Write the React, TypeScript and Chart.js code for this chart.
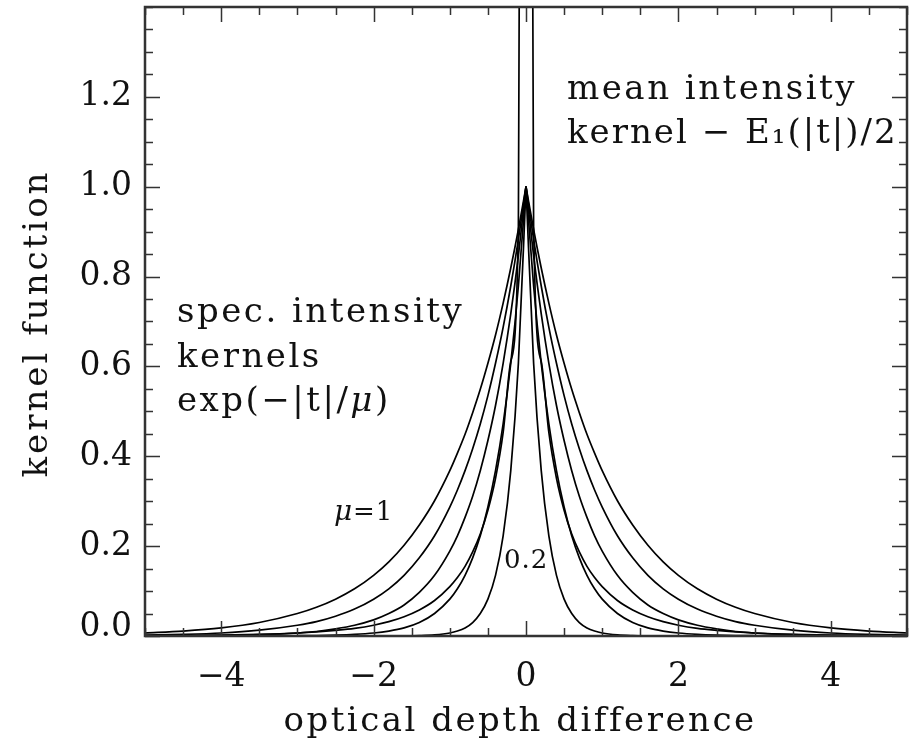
import React, { useEffect, useRef } from "react";
import { Chart, registerables } from "chart.js";

Chart.register(...registerables);

// |t| sample positions (optical depth difference, one side of the symmetric kernels)
const tAbs = [0, 0.1, 0.2, 0.3, 0.4, 0.5, 0.6, 0.7, 0.8, 0.9, 1.0, 1.2, 1.4, 1.6, 1.8, 2.0, 2.25, 2.5, 2.75, 3.0, 3.5, 4.0, 4.5, 5.0];

// specific intensity kernels exp(-|t|/mu)
const kernelMu10 = [1, 0.905, 0.819, 0.741, 0.670, 0.607, 0.549, 0.497, 0.449, 0.407, 0.368, 0.301, 0.247, 0.202, 0.165, 0.135, 0.105, 0.082, 0.064, 0.050, 0.030, 0.018, 0.011, 0.0067];
const kernelMu08 = [1, 0.883, 0.779, 0.687, 0.607, 0.535, 0.472, 0.417, 0.368, 0.325, 0.287, 0.223, 0.174, 0.135, 0.105, 0.082, 0.060, 0.044, 0.032, 0.024, 0.013, 0.0067, 0.0036, 0.0019];
const kernelMu06 = [1, 0.846, 0.717, 0.607, 0.513, 0.435, 0.368, 0.311, 0.264, 0.223, 0.189, 0.135, 0.097, 0.069, 0.050, 0.036, 0.024, 0.016, 0.010, 0.0067, 0.0029, 0.0013, 0.0006, 0.0002];
const kernelMu04 = [1, 0.779, 0.607, 0.472, 0.368, 0.287, 0.223, 0.174, 0.135, 0.105, 0.082, 0.050, 0.030, 0.018, 0.011, 0.0067, 0.0036, 0.0019, 0.0010, 0.0006, 0.0002, 0, 0, 0];
const kernelMu02 = [1, 0.607, 0.368, 0.223, 0.135, 0.082, 0.050, 0.030, 0.018, 0.011, 0.0067, 0.0025, 0.0009, 0.0003, 0.0001, 0, 0, 0, 0, 0, 0, 0, 0, 0];

// mean intensity kernel E1(|t|)/2 (runs off the top of the frame at t = 0)
const meanKernel = [6.0, 0.911, 0.611, 0.453, 0.351, 0.280, 0.227, 0.187, 0.155, 0.130, 0.110, 0.079, 0.058, 0.043, 0.032, 0.024, 0.017, 0.0125, 0.009, 0.0065, 0.0035, 0.0019, 0.0010, 0.0006];

const seriesList = [kernelMu10, kernelMu08, kernelMu06, kernelMu04, kernelMu02, meanKernel];

const xTickValues = [-4, -2, 0, 2, 4];
const yTickValues = [0, 0.2, 0.4, 0.6, 0.8, 1.0, 1.2];
const xTickLabels = ["\u22124", "\u22122", "0", "2", "4"];
const yTickLabels = ["0.0", "0.2", "0.4", "0.6", "0.8", "1.0", "1.2"];

const X_MIN = -5;
const X_MAX = 5;
const Y_MIN = 0;
const Y_MAX = 1.4;

const SERIF = "'DejaVu Serif', 'Liberation Serif', serif";

function halves(vals: number[]) {
  const right = tAbs.map((t, i) => ({ x: t, y: vals[i] }));
  const left = tAbs.map((t, i) => ({ x: -t, y: vals[i] })).reverse();
  return [left, right];
}

const frameAndText = {
  id: "frameAndText",
  afterDatasetsDraw(chart: any) {
    const { ctx, chartArea: a, scales } = chart;
    const xs = scales.x;
    const ys = scales.y;
    ctx.save();
    // ticks (inward, all four sides)
    ctx.strokeStyle = "#333";
    ctx.lineWidth = 1.5;
    ctx.beginPath();
    for (let k = 0; k <= 20; k++) {
      const v = X_MIN + k * 0.5;
      const major = xTickValues.some((m) => Math.abs(m - v) < 1e-6);
      const len = major ? 15 : 8;
      const px = Math.round(xs.getPixelForValue(v)) + 0.5;
      ctx.moveTo(px, a.bottom);
      ctx.lineTo(px, a.bottom - len);
      ctx.moveTo(px, a.top);
      ctx.lineTo(px, a.top + len);
    }
    for (let k = 0; k <= 28; k++) {
      const v = Y_MIN + k * 0.05;
      const major = yTickValues.some((m) => Math.abs(m - v) < 1e-6);
      const len = major ? 15 : 8;
      const py = Math.round(ys.getPixelForValue(v)) + 0.5;
      ctx.moveTo(a.left, py);
      ctx.lineTo(a.left + len, py);
      ctx.moveTo(a.right, py);
      ctx.lineTo(a.right - len, py);
    }
    ctx.stroke();
    // frame
    ctx.lineWidth = 2.5;
    ctx.strokeRect(a.left, a.top, a.right - a.left, a.bottom - a.top);

    // axis titles
    ctx.fillStyle = "#111";
    ctx.font = `34px ${SERIF}`;
    ctx.textAlign = "center";
    ctx.textBaseline = "alphabetic";
    (ctx as any).letterSpacing = "2.5px";
    ctx.fillText("optical depth difference", 520, 731);
    ctx.save();
    ctx.translate(47, (a.top + a.bottom) / 2 + 2);
    ctx.rotate(-Math.PI / 2);
    (ctx as any).letterSpacing = "3px";
    ctx.fillText("kernel function", 0, 0);
    ctx.restore();

    // annotations
    ctx.textAlign = "left";
    (ctx as any).letterSpacing = "2.5px";
    ctx.font = `34px ${SERIF}`;
    ctx.fillText("mean intensity", 567, 99);
    (ctx as any).letterSpacing = "2px";
    ctx.fillText("kernel \u2212 E\u2081(|t|)/2", 567, 143);
    (ctx as any).letterSpacing = "2.5px";
    ctx.fillText("spec. intensity", 177, 322);
    ctx.fillText("kernels", 177, 367);
    // exp(−|t|/μ) with italic μ
    let cx = 177;
    const part1 = "exp(\u2212|t|/";
    ctx.fillText(part1, cx, 411);
    cx += ctx.measureText(part1).width;
    ctx.font = `italic 34px ${SERIF}`;
    ctx.fillText("\u03bc", cx, 411);
    cx += ctx.measureText("\u03bc").width;
    ctx.font = `34px ${SERIF}`;
    ctx.fillText(")", cx, 411);

    (ctx as any).letterSpacing = "1px";
    ctx.font = `italic 28px ${SERIF}`;
    ctx.fillText("\u03bc", 334, 520);
    ctx.font = `26px ${SERIF}`;
    ctx.fillText("=1", 353, 520);
    ctx.fillText("0.2", 504, 568);
    ctx.restore();
  },
};

export default function App() {
  const ref = useRef<HTMLCanvasElement | null>(null);
  useEffect(() => {
    if (!ref.current) return;
    const datasets: any[] = [];
    seriesList.forEach((vals) => {
      halves(vals).forEach((pts) => {
        datasets.push({
          data: pts,
          borderColor: "#000",
          borderWidth: 1.7,
          pointRadius: 0,
          fill: false,
          cubicInterpolationMode: "monotone",
        });
      });
    });
    const chart = new Chart(ref.current, {
      type: "line",
      data: { datasets },
      plugins: [frameAndText],
      options: {
        animation: false,
        responsive: false,
        maintainAspectRatio: false,
        events: [],
        layout: { padding: { top: 7, right: 9, left: 0, bottom: 0 } },
        plugins: { legend: { display: false }, tooltip: { enabled: false }, title: { display: false } },
        scales: {
          x: {
            type: "linear",
            min: X_MIN,
            max: X_MAX,
            grid: { display: false, drawTicks: false },
            border: { display: false },
            afterFit: (s: any) => {
              s.height = 110;
              s.paddingLeft = 0;
              s.paddingRight = 0;
            },
            afterBuildTicks: (s: any) => {
              s.ticks = xTickValues.map((v) => ({ value: v }));
            },
            ticks: {
              color: "#111",
              padding: 22,
              maxRotation: 0,
              autoSkip: false,
              font: { family: SERIF, size: 33 },
              callback: (v: any) => {
                const i = xTickValues.findIndex((m) => Math.abs(m - Number(v)) < 1e-6);
                return i >= 0 ? xTickLabels[i] : "";
              },
            },
          },
          y: {
            type: "linear",
            min: Y_MIN,
            max: Y_MAX,
            grid: { display: false, drawTicks: false },
            border: { display: false },
            afterFit: (s: any) => {
              s.width = 145;
              s.paddingTop = 0;
              s.paddingBottom = 0;
            },
            afterBuildTicks: (s: any) => {
              s.ticks = yTickValues.map((v) => ({ value: v }));
            },
            ticks: {
              color: "#111",
              padding: 13,
              autoSkip: false,
              font: { family: SERIF, size: 33, lineHeight: "18px" },
              callback: (v: any) => {
                const i = yTickValues.findIndex((m) => Math.abs(m - Number(v)) < 1e-6);
                if (i < 0) return "";
                return i === 0 ? [yTickLabels[i], ""] : yTickLabels[i];
              },
            },
          },
        },
      },
    });
    return () => chart.destroy();
  }, []);
  return (
    <div style={{ position: "absolute", left: 0, top: 0, width: 916, height: 746, background: "#fff" }}>
      <canvas ref={ref} width={916} height={746} style={{ display: "block", width: 916, height: 746 }} />
    </div>
  );
}
